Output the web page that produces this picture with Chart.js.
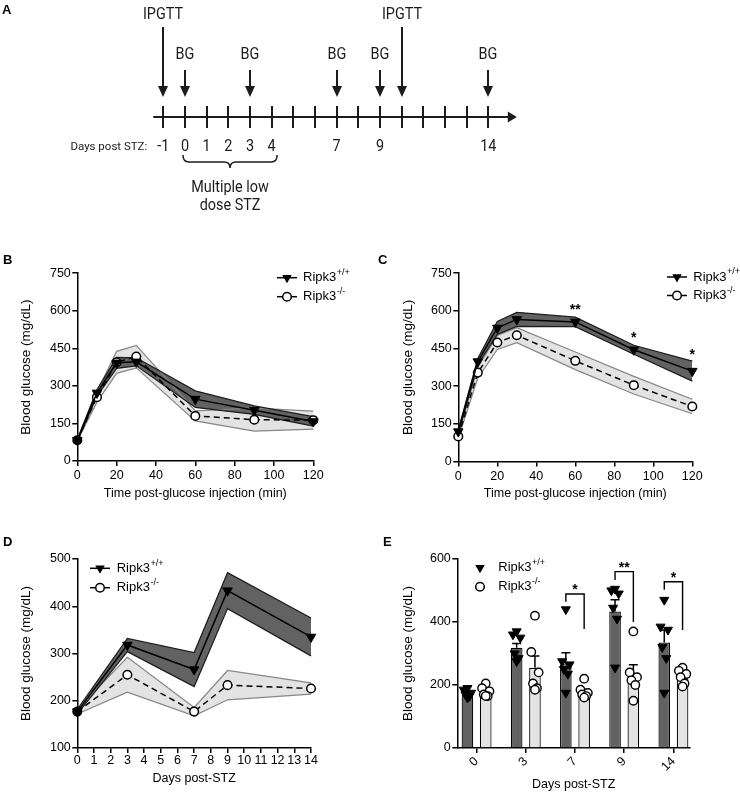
<!DOCTYPE html>
<html>
<head>
<meta charset="utf-8">
<script src="https://cdn.jsdelivr.net/npm/chart.js@4.4.1/dist/chart.umd.min.js"></script>
<style>
html,body{margin:0;padding:0;background:#fff;}
#fig{position:relative;width:740px;height:792px;background:#fff;overflow:hidden;}
#fig canvas{position:absolute;}
</style>
</head>
<body>
<div id="fig">
  <canvas id="cA" width="570" height="222" style="left:0px;top:0px"></canvas>
  <canvas id="cB" width="370" height="280" style="left:0px;top:230px"></canvas>
  <canvas id="cC" width="370" height="280" style="left:370px;top:230px"></canvas>
  <canvas id="cD" width="370" height="262" style="left:0px;top:530px"></canvas>
  <canvas id="cE" width="370" height="262" style="left:370px;top:530px"></canvas>
</div>
<script>
// ================= DATA =================
// Panel A: experimental timeline
const timelineDays   = [-1,0,1,2,3,4,5,6,7,8,9,10,11,12,13,14];
const timelineLabels = [-1,0,1,2,3,4,7,9,14];
const bgDays         = [0,3,7,9,14];
const ipgttDays      = [-1,10];
const lowDoseDays    = [0,4];

// Panels B, C: IPGTT (time in min)
const gttTimes  = [0,10,20,30,60,90,120];
const gttTicksX = [0,20,40,60,80,100,120];
const gttTicksY = [0,150,300,450,600,750];

const bWtMean = [83,272,392,396,247,203,158];
const bWtSem  = [3,13,22,16,33,17,19];
const bKoMean = [83,255,394,417,180,165,163];
const bKoSem  = [3,20,44,45,20,46,36];

const cWtMean = [119,398,532,566,556,445,360];
const cWtSem  = [8,12,26,28,19,18,40];
const cKoMean = [100,354,474,503,401,304,219];
const cKoSem  = [8,22,28,30,35,35,29];
const cSigTimes  = [60,90,120];
const cSigMarks  = ['**','*','*'];
const cSigLevels = [588,477,409];

// Panels D, E: blood glucose after STZ
const stzDays = [0,3,7,9,14];
const dTicksX = [0,1,2,3,4,5,6,7,8,9,10,11,12,13,14];
const dTicksY = [100,200,300,400,500];
const wtMean  = [177,318,266,433,335];
const wtSem   = [5,14,36,38,40];
const koMean  = [177,255,177,233,226];
const koSem   = [5,37,9,31,12];

const eTicksY = [0,200,400,600];
const eWtPoints = [
  [190,185,175,170,165,160],
  [370,360,350,300,285,275],
  [440,275,265,250,235,175],
  [505,500,490,445,410,255],
  [470,385,375,320,285,175]
];
const eKoPoints = [
  [205,190,180,170,165,165],
  [420,305,240,205,190,185],
  [220,185,175,170,165,160],
  [370,240,225,215,200,150],
  [255,245,235,225,205,195]
];
const eSigIndex    = [2,3,4];
const eSigMarks    = ['*','**','*'];
const eSigTop      = [489,560,528];
const eSigLeftEnd  = [464,533,502];
const eSigRightEnd = [378,400,375];

// ================= STYLE =================
const SANS = '"Liberation Sans", Arial, Helvetica, sans-serif';
const ROBOTO = 'Roboto, "Liberation Sans", Arial, sans-serif';
const DARK = '#626262';
const LIGHT = '#e3e3e3';
Chart.defaults.font.family = SANS;
Chart.defaults.color = '#000';
Chart.defaults.animation = false;

function triDown(ctx, x, y, r) {
  ctx.beginPath();
  ctx.moveTo(x, y + r);
  ctx.lineTo(x - r * 0.866, y - r / 2);
  ctx.lineTo(x + r * 0.866, y - r / 2);
  ctx.closePath();
  ctx.fillStyle = '#000';
  ctx.fill();
}
function openCircle(ctx, x, y, r) {
  ctx.beginPath();
  ctx.arc(x, y, r, 0, Math.PI * 2);
  ctx.fillStyle = '#fff';
  ctx.fill();
  ctx.lineWidth = 1.5;
  ctx.strokeStyle = '#000';
  ctx.stroke();
}
function superLabel(ctx, x, y, base, sup) {
  ctx.save();
  ctx.fillStyle = '#000';
  ctx.textAlign = 'left';
  ctx.textBaseline = 'middle';
  ctx.font = '13px ' + SANS;
  ctx.fillText(base, x, y);
  const w = ctx.measureText(base).width;
  ctx.font = '9px ' + SANS;
  ctx.fillText(sup, x + w + 0.5, y - 5);
  ctx.restore();
}
function panelLetter(ctx, letter, x, y) {
  ctx.save();
  ctx.fillStyle = '#000';
  ctx.font = 'bold 13px ' + SANS;
  ctx.textAlign = 'left';
  ctx.textBaseline = 'alphabetic';
  ctx.fillText(letter, x, y);
  ctx.restore();
}

function axisX(cfg) {
  return {
    type: 'linear', min: cfg.min, max: cfg.max, offset: false,
    afterFit: s => { s.height = cfg.height; },
    afterBuildTicks: s => { s.ticks = cfg.ticks.map(v => ({ value: v })); },
    ticks: Object.assign({ autoSkip: false, maxRotation: 0, minRotation: 0, padding: cfg.tickPad, font: { size: 12.5 }, color: '#000' }, cfg.tickExtra || {}),
    grid: { offset: false, drawOnChartArea: false, drawTicks: true, tickLength: 5, color: '#000', lineWidth: 1.5 },
    border: { display: true, color: '#000', width: 1.5 },
    title: { display: true, text: cfg.title, font: { size: 12.5 }, color: '#000', padding: { top: 0, bottom: cfg.titlePad } }
  };
}
function axisY(cfg) {
  return {
    type: 'linear', min: cfg.min, max: cfg.max,
    afterFit: s => { s.width = cfg.width; },
    afterBuildTicks: s => { s.ticks = cfg.ticks.map(v => ({ value: v })); },
    ticks: { padding: 1.5, font: { size: 12.5 }, color: '#000' },
    grid: { drawOnChartArea: false, drawTicks: true, tickLength: 5, color: '#000', lineWidth: 1.5 },
    border: { display: true, color: '#000', width: 1.5 },
    title: { display: true, text: 'Blood glucose (mg/dL)', font: { size: 13.5 }, color: '#000', padding: { top: cfg.titleX - 8.1, bottom: 0 } }
  };
}

function makeLinePanel(cfg) {
  const xs = cfg.x;
  const pts = arr => arr.map((v, i) => ({ x: xs[i], y: v }));
  const up = (m, s) => m.map((v, i) => ({ x: xs[i], y: v + s[i] }));
  const lo = (m, s) => m.map((v, i) => ({ x: xs[i], y: v - s[i] }));
  const koFill = cfg.koMean.map((_, i) => (i === 0 && cfg.koFirstDark) ? '#000' : '#fff');
  const W = cfg.W, H = cfg.H, A = cfg.area;
  const overlay = {
    id: 'overlay' + cfg.letter,
    afterDraw(chart) {
      const ctx = chart.ctx;
      panelLetter(ctx, cfg.letter, cfg.letterPos[0], cfg.letterPos[1]);
      const L = cfg.legend;
      const xm = (L.x1 + L.x2) / 2;
      ctx.save();
      ctx.strokeStyle = '#000';
      ctx.lineWidth = 1.5;
      ctx.beginPath(); ctx.moveTo(L.x1, L.y1); ctx.lineTo(L.x2, L.y1); ctx.stroke();
      triDown(ctx, xm, L.y1, 5.5);
      ctx.beginPath(); ctx.moveTo(L.x1, L.y2); ctx.lineTo(xm - 5, L.y2); ctx.stroke();
      ctx.beginPath(); ctx.moveTo(xm + 5, L.y2); ctx.lineTo(L.x2, L.y2); ctx.stroke();
      openCircle(ctx, xm, L.y2, 4.3);
      ctx.restore();
      superLabel(ctx, L.tx, L.y1, 'Ripk3', '+/+');
      superLabel(ctx, L.tx, L.y2, 'Ripk3', '-/-');
      if (cfg.sig) {
        const sx = chart.scales.x, sy = chart.scales.y;
        ctx.save();
        ctx.fillStyle = '#000';
        ctx.font = 'bold 14px ' + SANS;
        ctx.textAlign = 'center';
        ctx.textBaseline = 'alphabetic';
        cfg.sig.times.forEach((t, k) => {
          ctx.fillText(cfg.sig.marks[k], sx.getPixelForValue(t), sy.getPixelForValue(cfg.sig.levels[k]));
        });
        ctx.restore();
      }
    }
  };
  return new Chart(document.getElementById(cfg.id), {
    type: 'line',
    data: {
      datasets: [
        { data: up(cfg.koMean, cfg.koSem), borderColor: '#868686', borderWidth: 1.2, pointRadius: 0, fill: false, order: 6, clip: false },
        { data: lo(cfg.koMean, cfg.koSem), borderColor: '#868686', borderWidth: 1.2, pointRadius: 0, fill: '-1', backgroundColor: LIGHT, order: 5, clip: false },
        { data: up(cfg.wtMean, cfg.wtSem), borderColor: '#1c1c1c', borderWidth: 1.2, pointRadius: 0, fill: false, order: 4, clip: false },
        { data: lo(cfg.wtMean, cfg.wtSem), borderColor: '#1c1c1c', borderWidth: 1.2, pointRadius: 0, fill: '-1', backgroundColor: DARK, order: 3, clip: false },
        { data: pts(cfg.koMean), borderColor: '#000', borderWidth: 1.5, borderDash: [6, 4], pointStyle: 'circle', pointRadius: 4.3,
          pointBackgroundColor: koFill, pointBorderColor: '#000', pointBorderWidth: 1.5, fill: false, order: 2, clip: false },
        { data: pts(cfg.wtMean), borderColor: '#000', borderWidth: 1.5, pointStyle: 'triangle', pointRotation: 180, pointRadius: 5.5,
          pointBackgroundColor: '#000', pointBorderColor: '#000', pointBorderWidth: 1, fill: false, order: 1, clip: false }
      ]
    },
    options: {
      responsive: false, animation: false, events: [],
      layout: { padding: { left: 0, top: A.top, right: W - A.right, bottom: 0 } },
      plugins: { legend: { display: false }, tooltip: { enabled: false }, filler: { drawTime: 'beforeDatasetsDraw' } },
      scales: {
        x: axisX({ min: cfg.xMin, max: cfg.xMax, ticks: cfg.xTicks, height: H - A.bottom, tickPad: cfg.xTickPad, title: cfg.xTitle, titlePad: cfg.xTitlePad }),
        y: axisY({ min: cfg.yMin, max: cfg.yMax, ticks: cfg.yTicks, width: A.left, titleX: cfg.yTitleX })
      }
    },
    plugins: [overlay]
  });
}

// ================= PANEL A =================
const timelinePlugin = {
  id: 'timeline',
  afterDraw(chart) {
    const ctx = chart.ctx;
    const sx = chart.scales.x;
    const px = v => sx.getPixelForValue(v);
    const ink = '#1b1b1b';
    const axisY = 117;
    ctx.save();
    ctx.strokeStyle = ink; ctx.fillStyle = ink;
    const x0 = px(timelineDays[0]) - 10;
    const xEnd = px(timelineDays[timelineDays.length - 1]) + 28.5;
    ctx.lineWidth = 2.2;
    ctx.beginPath(); ctx.moveTo(x0, axisY); ctx.lineTo(xEnd - 8, axisY); ctx.stroke();
    ctx.beginPath(); ctx.moveTo(xEnd, axisY); ctx.lineTo(xEnd - 9, axisY - 5.5); ctx.lineTo(xEnd - 9, axisY + 5.5); ctx.closePath(); ctx.fill();
    ctx.lineWidth = 2;
    timelineDays.forEach(d => {
      const x = Math.round(px(d));
      ctx.beginPath(); ctx.moveTo(x, axisY - 11); ctx.lineTo(x, axisY + 11); ctx.stroke();
    });
    function arrow(x, y1, y2) {
      ctx.lineWidth = 2;
      ctx.beginPath(); ctx.moveTo(x, y1); ctx.lineTo(x, y2 - 9); ctx.stroke();
      ctx.beginPath(); ctx.moveTo(x, y2); ctx.lineTo(x - 5, y2 - 11); ctx.lineTo(x + 5, y2 - 11); ctx.closePath(); ctx.fill();
    }
    function txt(s, x, y, size, align) {
      ctx.save();
      ctx.translate(x, y);
      ctx.scale(0.9, 1);
      ctx.font = size + 'px ' + ROBOTO;
      ctx.textAlign = align || 'center';
      ctx.textBaseline = 'alphabetic';
      ctx.fillText(s, 0, 0);
      ctx.restore();
    }
    ipgttDays.forEach(d => { const x = Math.round(px(d)); arrow(x, 27, 97); txt('IPGTT', x, 19.3, 16); });
    bgDays.forEach(d => { const x = Math.round(px(d)); arrow(x, 70, 97); txt('BG', x, 59.3, 16); });
    timelineLabels.forEach(d => txt(String(d), px(d), 150.7, 16));
    ctx.font = '11.5px ' + ROBOTO;
    ctx.textAlign = 'right'; ctx.textBaseline = 'alphabetic';
    ctx.fillText('Days post STZ:', px(timelineDays[0]) - 16, 149.5);
    const b1 = px(lowDoseDays[0]) - 2, b2 = px(lowDoseDays[1]) + 5.5, bm = (b1 + b2) / 2;
    const yT = 155, yM = 162, yB = 168, r = 6;
    ctx.lineWidth = 1.5;
    ctx.beginPath();
    ctx.moveTo(b1, yT);
    ctx.quadraticCurveTo(b1, yM, b1 + r, yM);
    ctx.lineTo(bm - r, yM);
    ctx.quadraticCurveTo(bm, yM, bm, yB);
    ctx.quadraticCurveTo(bm, yM, bm + r, yM);
    ctx.lineTo(b2 - r, yM);
    ctx.quadraticCurveTo(b2, yM, b2, yT);
    ctx.stroke();
    txt('Multiple low', bm, 191.7, 16);
    txt('dose STZ', bm, 209.7, 16);
    ctx.restore();
    panelLetter(ctx, 'A', 2, 13.5);
  }
};
new Chart(document.getElementById('cA'), {
  type: 'scatter',
  data: { datasets: [] },
  options: {
    responsive: false, animation: false, events: [],
    layout: { padding: { left: 163.3, right: 570 - 488.3, top: 0, bottom: 0 } },
    plugins: { legend: { display: false }, tooltip: { enabled: false } },
    scales: {
      x: { type: 'linear', display: false, min: timelineDays[0], max: timelineDays[timelineDays.length - 1] },
      y: { type: 'linear', display: false, min: 0, max: 1 }
    }
  },
  plugins: [timelinePlugin]
});

// ================= PANEL B =================
makeLinePanel({
  id: 'cB', letter: 'B', letterPos: [3, 33.5], W: 370, H: 280,
  area: { left: 77.3, right: 313.3, top: 43.2, bottom: 231 },
  x: gttTimes, xMin: 0, xMax: 120, xTicks: gttTicksX, xTickPad: 2.5,
  xTitle: 'Time post-glucose injection (min)', xTitlePad: 9.2,
  yMin: 0, yMax: 750, yTicks: gttTicksY, yTitleX: 26.7,
  wtMean: bWtMean, wtSem: bWtSem, koMean: bKoMean, koSem: bKoSem, koFirstDark: true,
  legend: { x1: 277, x2: 297, tx: 303, y1: 47.7, y2: 66.7 }
});

// ================= PANEL C =================
makeLinePanel({
  id: 'cC', letter: 'C', letterPos: [8, 33.5], W: 370, H: 280,
  area: { left: 88.3, right: 322.3, top: 43.2, bottom: 231.5 },
  x: gttTimes, xMin: 0, xMax: 120, xTicks: gttTicksX, xTickPad: 2.5,
  xTitle: 'Time post-glucose injection (min)', xTitlePad: 9.2,
  yMin: 0, yMax: 750, yTicks: gttTicksY, yTitleX: 38.3,
  wtMean: cWtMean, wtSem: cWtSem, koMean: cKoMean, koSem: cKoSem, koFirstDark: false,
  legend: { x1: 297, x2: 317, tx: 323.3, y1: 47, y2: 65.5 },
  sig: { times: cSigTimes, marks: cSigMarks, levels: cSigLevels }
});

// ================= PANEL D =================
makeLinePanel({
  id: 'cD', letter: 'D', letterPos: [3, 15.5], W: 370, H: 262,
  area: { left: 77.3, right: 311, top: 29, bottom: 218 },
  x: stzDays, xMin: 0, xMax: 14, xTicks: dTicksX, xTickPad: 0.5,
  xTitle: 'Days post-STZ', xTitlePad: 6.2,
  yMin: 100, yMax: 500, yTicks: dTicksY, yTitleX: 26.7,
  wtMean: wtMean, wtSem: wtSem, koMean: koMean, koSem: koSem, koFirstDark: true,
  legend: { x1: 90, x2: 110, tx: 116.7, y1: 38.3, y2: 57.7 }
});

// ================= PANEL E =================
(function () {
  const W = 370, H = 262;
  const A = { left: 87.3, right: 320, top: 29, bottom: 218 };
  const GROUP_OFF = 0.186;            // half distance between paired bars (category units)
  const jitter = [0, -0.075, 0.075, -0.04, 0.04, 0.0];
  const wtPts = [], koPts = [];
  eWtPoints.forEach((g, i) => g.forEach((v, j) => wtPts.push({ x: i - GROUP_OFF + jitter[j], y: v })));
  eKoPoints.forEach((g, i) => g.forEach((v, j) => koPts.push({ x: i + GROUP_OFF + jitter[j], y: v })));
  const errPlugin = {
    id: 'errE',
    afterDatasetDraw(chart, args) {
      if (args.index > 1) return;
      const ctx = chart.ctx, sy = chart.scales.y;
      const means = args.index === 0 ? wtMean : koMean;
      const sems = args.index === 0 ? wtSem : koSem;
      ctx.save();
      ctx.strokeStyle = '#000'; ctx.lineWidth = 1.5;
      args.meta.data.forEach((el, i) => {
        const yT = sy.getPixelForValue(means[i] + sems[i]);
        const yM = sy.getPixelForValue(means[i]);
        ctx.beginPath();
        ctx.moveTo(el.x, yM); ctx.lineTo(el.x, yT);
        ctx.moveTo(el.x - 4.5, yT); ctx.lineTo(el.x + 4.5, yT);
        ctx.stroke();
      });
      ctx.restore();
    },
    afterDraw(chart) {
      const ctx = chart.ctx, sy = chart.scales.y;
      const mW = chart.getDatasetMeta(0), mK = chart.getDatasetMeta(1);
      ctx.save();
      ctx.strokeStyle = '#000'; ctx.fillStyle = '#000'; ctx.lineWidth = 1.4;
      eSigIndex.forEach((i, k) => {
        const xl = mW.data[i].x, xr = mK.data[i].x;
        const yT = sy.getPixelForValue(eSigTop[k]);
        ctx.beginPath();
        ctx.moveTo(xl, sy.getPixelForValue(eSigLeftEnd[k]));
        ctx.lineTo(xl, yT); ctx.lineTo(xr, yT);
        ctx.lineTo(xr, sy.getPixelForValue(eSigRightEnd[k]));
        ctx.stroke();
        ctx.font = 'bold 14px ' + SANS;
        ctx.textAlign = 'center'; ctx.textBaseline = 'alphabetic';
        ctx.fillText(eSigMarks[k], (xl + xr) / 2, yT);
      });
      triDown(ctx, 110, 37.7, 5.5);
      openCircle(ctx, 110, 56.7, 4.3);
      ctx.restore();
      superLabel(ctx, 128.3, 37.7, 'Ripk3', '+/+');
      superLabel(ctx, 128.3, 56.7, 'Ripk3', '-/-');
      panelLetter(ctx, 'E', 13, 15.5);
    }
  };
  new Chart(document.getElementById('cE'), {
    type: 'bar',
    data: {
      datasets: [
        { type: 'bar', data: wtMean.map((v, i) => ({ x: i, y: v })), backgroundColor: DARK, borderColor: '#000', borderWidth: 1.2,
          categoryPercentage: 0.744, barPercentage: 0.634, order: 3 },
        { type: 'bar', data: koMean.map((v, i) => ({ x: i, y: v })), backgroundColor: LIGHT, borderColor: '#000', borderWidth: 1.2,
          categoryPercentage: 0.744, barPercentage: 0.634, order: 3 },
        { type: 'scatter', data: wtPts, pointStyle: 'triangle', pointRotation: 180, pointRadius: 5.2,
          pointBackgroundColor: '#000', pointBorderColor: '#000', pointBorderWidth: 1, order: 2, clip: false },
        { type: 'scatter', data: koPts, pointStyle: 'circle', pointRadius: 4.2,
          pointBackgroundColor: '#fff', pointBorderColor: '#000', pointBorderWidth: 1.4, order: 1, clip: false }
      ]
    },
    options: {
      responsive: false, animation: false, events: [],
      layout: { padding: { left: 0, top: A.top, right: W - A.right, bottom: 0 } },
      plugins: { legend: { display: false }, tooltip: { enabled: false } },
      scales: {
        x: axisX({ min: -0.392, max: 4.337, ticks: [0, 1, 2, 3, 4], height: H - A.bottom, tickPad: 1,
                   title: 'Days post-STZ', titlePad: 0,
                   tickExtra: { maxRotation: 45, minRotation: 45, callback: (v, i) => String(stzDays[i]) } }),
        y: axisY({ min: 0, max: 600, ticks: eTicksY, width: A.left, titleX: 38.3 })
      }
    },
    plugins: [errPlugin]
  });
})();
</script>
</body>
</html>
